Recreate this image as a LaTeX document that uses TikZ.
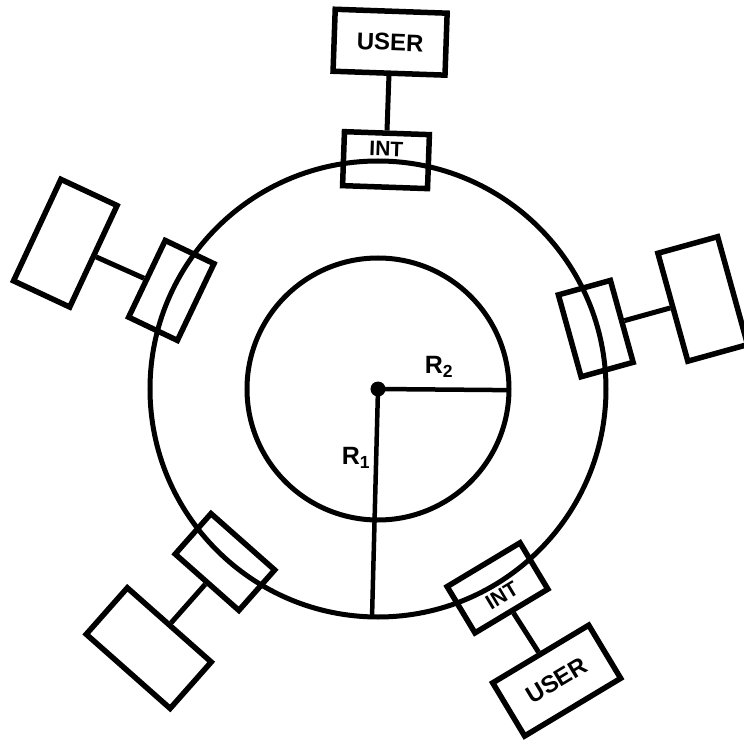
\documentclass[tikz,border=0pt]{standalone}
\usepackage{fontspec}
\setsansfont{Liberation Sans}
\usepackage{tikz}

\begin{document}
\begin{tikzpicture}[x=1pt, y=1pt,
    ring/.style={draw, line width=5pt},
    intbox/.style={rectangle, draw, line width=5.5pt, minimum width=85pt, minimum height=54pt, inner sep=0pt, font=\sffamily\bfseries\fontsize{21}{21}\selectfont},
    userbox/.style={rectangle, draw, line width=5.5pt, minimum width=112pt, minimum height=62pt, inner sep=0pt, font=\sffamily\bfseries\fontsize{24}{24}\selectfont},
    link/.style={line width=5pt},
    radius/.style={line width=4.5pt},
    rlabel/.style={font=\sffamily\bfseries\fontsize{25}{25}\selectfont}]

\useasboundingbox (-378,-358) rectangle (366,389);

% ring and radii
\coordinate (O) at (0,0);
\coordinate (Rone) at (268.5:228);
\coordinate (Rtwo) at (-0.5:131);
\draw[ring] (O) circle (228);
\draw[ring] (O) circle (131);
\draw[radius] (O) -- (Rone);
\draw[radius] (O) -- (Rtwo);
\fill (O) circle (7.5);
\node[rlabel] (lblRtwo) at (61,22) {R\textsubscript{2}};
\node[rlabel] (lblRone) at (-22,-69) {R\textsubscript{1}};

% interfaces and users
\node[intbox, rotate=-2] (intN) at (88:229) {\raisebox{4pt}[0pt][0pt]{INT}};
\node[userbox, rotate=-2] (userN) at (88:347) {USER};
\node[intbox, rotate=64.5] (intNW) at (154.5:229) {};
\node[userbox, rotate=65] (userNW) at (155:345) {};
\node[intbox, rotate=-74.5] (intE) at (15.5:226) {};
\node[userbox, rotate=-74.5] (userE) at (15.5:337) {};
\node[intbox, rotate=138.5] (intSW) at (228.5:231) {};
\node[userbox, rotate=138.5] (userSW) at (228.5:346) {};
\node[intbox, rotate=31] (intSE) at (301:232) {\raisebox{-16pt}[0pt][0pt]{INT}};
\node[userbox, rotate=31] (userSE) at (301.5:342) {USER};

\draw[link] (intN) -- (userN);
\draw[link] (intNW) -- (userNW);
\draw[link] (intE) -- (userE);
\draw[link] (intSW) -- (userSW);
\draw[link] (intSE) -- (userSE);
\end{tikzpicture}
\end{document}
